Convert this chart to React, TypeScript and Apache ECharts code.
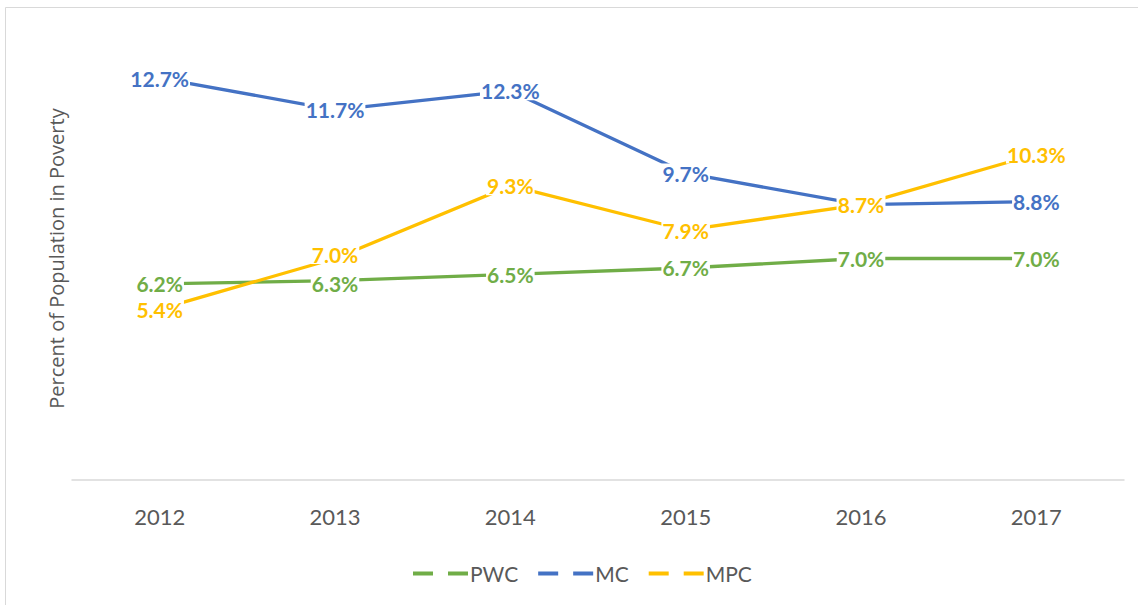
import React, { useEffect, useRef } from "react";
import * as echarts from "echarts";

const categories = ["2012", "2013", "2014", "2015", "2016", "2017"];
const pwcValues = [6.2, 6.3, 6.5, 6.7, 7.0, 7.0];
const mcValues = [12.7, 11.7, 12.3, 9.7, 8.7, 8.8];
const mpcValues = [5.4, 7.0, 9.3, 7.9, 8.7, 10.3];
const seriesNames = ["PWC", "MC", "MPC"];
const yAxisTitle = "Percent of Population in Poverty";

const FONT = "Lato, 'Open Sans', sans-serif";
const GRAY = "#595959";
const colors = { PWC: "#70AD47", MC: "#4472C4", MPC: "#FFC000" };
// small label nudges (style only), keyed by series then category index
const labelNudge: Record<string, Record<number, number[]>> = {
  PWC: { 1: [0, 3] },
  MPC: { 1: [0, -4] },
};

function makeSeries(name: string, values: number[]) {
  const color = (colors as any)[name];
  const nudges = labelNudge[name] || {};
  return {
    name,
    type: "line",
    data: values.map((v, i) =>
      nudges[i] ? { value: v, label: { offset: nudges[i] } } : v
    ),
    symbol: "circle",
    symbolSize: 1,
    showSymbol: true,
    itemStyle: { color },
    lineStyle: { color, width: 3.3 },
    label: {
      show: true,
      position: "inside",
      color,
      fontFamily: FONT,
      fontWeight: "bold",
      fontSize: 21,
      lineHeight: 19,
      backgroundColor: "#ffffff",
      padding: [0, 1],
      formatter: (p: any) => Number(p.value).toFixed(1) + "%",
    },
    emphasis: { disabled: true },
  };
}

export default function App() {
  const ref = useRef<HTMLDivElement>(null);
  useEffect(() => {
    if (!ref.current) return;
    const chart = echarts.init(ref.current, undefined, { renderer: "svg" });
    const dashIcon = "path://M0,0 H20 V4 H0 Z M35,0 H55 V4 H35 Z";
    chart.setOption({
      animation: false,
      backgroundColor: "#ffffff",
      graphic: [
        {
          type: "rect",
          left: 3,
          top: 5,
          shape: { width: 1145, height: 610 },
          style: { fill: "none", stroke: "#d9d9d9", lineWidth: 1 },
          z: -10,
        },
      ],
      grid: { left: 72, right: 14, top: 37, bottom: 125 },
      legend: {
        data: seriesNames.map((n) => ({ name: n, icon: dashIcon })),
        left: 408,
        top: 558,
        itemWidth: 55,
        itemHeight: 4,
        itemGap: 20,
        textStyle: { color: GRAY, fontFamily: FONT, fontSize: 21, padding: [0, 0, 0, -3] },
      },
      xAxis: {
        type: "category",
        data: categories,
        boundaryGap: true,
        axisLine: { show: true, lineStyle: { color: "#d9d9d9", width: 1.5 } },
        axisTick: { show: false },
        axisLabel: { color: GRAY, fontFamily: FONT, fontSize: 22, margin: 25 },
        splitLine: { show: false },
      },
      yAxis: {
        type: "value",
        min: 0,
        max: 14,
        name: yAxisTitle,
        nameLocation: "middle",
        nameGap: 6,
        nameTextStyle: { color: GRAY, fontFamily: "'Open Sans', sans-serif", fontSize: 20 },
        axisLine: { show: false },
        axisTick: { show: false },
        axisLabel: { show: false },
        splitLine: { show: false },
      },
      series: [
        makeSeries("PWC", pwcValues),
        makeSeries("MC", mcValues),
        makeSeries("MPC", mpcValues),
      ],
    });
    return () => chart.dispose();
  }, []);
  return (
    <div
      ref={ref}
      style={{ position: "absolute", left: 0, top: 0, width: 1138, height: 605 }}
    />
  );
}
